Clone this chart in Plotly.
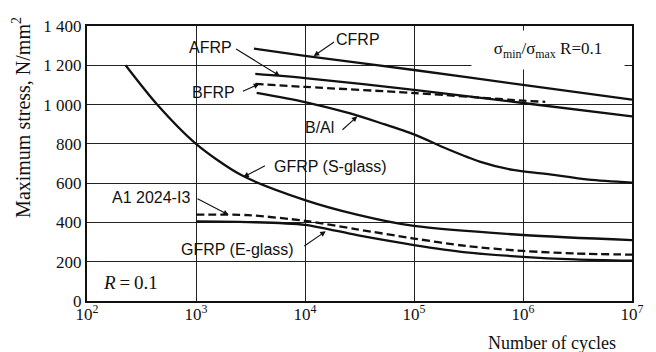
import plotly.graph_objects as go

# S-N curves: number of cycles vs maximum stress (N/mm^2), R = 0.1
cfrp_n = [3.4e3, 1e4, 1e5, 1e6, 1e7]
cfrp_s = [1285, 1248, 1176, 1100, 1025]

afrp_n = [3.5e3, 1e4, 1e5, 1e6, 1e7]
afrp_s = [1156, 1135, 1075, 1008, 940]

bfrp_n = [3.5e3, 1e4, 1e5, 1e6, 1.6e6]
bfrp_s = [1105, 1090, 1059, 1020, 1014]

bal_n = [3.6e3, 1e4, 2.6e4, 5e4, 1e5, 2e5, 4e5, 8.1e5, 1.62e6, 4e6, 1e7]
bal_s = [1060, 1013, 955, 905, 848, 775, 710, 667, 647, 618, 603]

sglass_n = [2.26e2, 4.4e2, 1e3, 2.6e3, 1e4, 3e4, 1e5, 1e6, 1e7]
sglass_s = [1200, 1000, 800, 641, 514, 440, 382, 336, 310]

al2024_n = [1e3, 3e3, 1e4, 3e4, 1e5, 3e5, 1e6, 3e6, 1e7]
al2024_s = [440, 437, 408, 365, 318, 280, 255, 242, 236]

eglass_n = [1e3, 3e3, 1e4, 3e4, 1e5, 3e5, 1e6, 3e6, 1e7]
eglass_s = [405, 402, 388, 335, 285, 248, 225, 212, 205]

x_tickvals = [1e2, 1e3, 1e4, 1e5, 1e6, 1e7]
x_ticktext = ["10<sup>2</sup>", "10<sup>3</sup>", "10<sup>4</sup>",
              "10<sup>5</sup>", "10<sup>6</sup>", "10<sup>7</sup>"]
y_tickvals = [0, 200, 400, 600, 800, 1000, 1200, 1400]
y_ticktext = ["0", "200", "400", "600", "800", "1 000", "1 200", "1 400"]

INK = "#111111"
SERIF = "Liberation Serif, Times New Roman, serif"
SANS = "Liberation Sans, Arial, sans-serif"

series = [
    (cfrp_n, cfrp_s, "solid"),
    (afrp_n, afrp_s, "solid"),
    (bfrp_n, bfrp_s, "8px,4px"),
    (bal_n, bal_s, "solid"),
    (sglass_n, sglass_s, "solid"),
    (al2024_n, al2024_s, "8px,4px"),
    (eglass_n, eglass_s, "solid"),
]

fig = go.Figure()
for xs, ys, dash in series:
    fig.add_trace(go.Scatter(
        x=xs, y=ys, mode="lines",
        line=dict(color=INK, width=2.3, dash=dash, shape="spline", smoothing=0.8),
        showlegend=False, hoverinfo="skip",
    ))

# curve labels: (text, label log10 N, label stress, arrow tail, arrow tip)
labels = [
    ("AFRP", 3.13, 1293, (3.354, 1288), (3.77, 1145)),
    ("CFRP", 4.49, 1329, (4.28, 1324), (4.08, 1247)),
    ("BFRP", 3.16, 1059, (3.416, 1064), (3.58, 1105)),
    ("B/Al", 4.13, 881, (4.33, 865), (4.48, 940)),
    ("GFRP (S-glass)", 4.237, 687, (3.646, 692), (3.434, 631)),
    ("A1 2024-I3", 2.584, 529, (3.0, 524), (3.3, 438)),
    ("GFRP (E-glass)", 3.381, 260, (3.98, 275), (4.19, 355)),
]

annotations = []
for text, lx, ly, tail, tip in labels:
    annotations.append(dict(
        x=lx, y=ly, xref="x", yref="y", text=text, showarrow=False,
        xanchor="center", yanchor="middle",
        font=dict(family=SANS, size=16, color=INK),
    ))
    annotations.append(dict(
        x=tip[0], y=tip[1], ax=tail[0], ay=tail[1],
        xref="x", yref="y", axref="x", ayref="y", text="",
        showarrow=True, arrowhead=2, arrowsize=1.0, arrowwidth=1.1,
        arrowcolor=INK, standoff=0, startstandoff=0,
    ))

annotations += [
    dict(x=2.40, y=92, xref="x", yref="y", showarrow=False,
         xanchor="center", yanchor="middle",
         text="<i>R</i>\u2009=\u20090.1",
         font=dict(family=SERIF, size=19, color=INK)),
    dict(x=6.23, y=1278, xref="x", yref="y", showarrow=False,
         xanchor="center", yanchor="middle",
         text="\u03c3<sub>min</sub>/\u03c3<sub>max</sub> R=0.1",
         font=dict(family=SERIF, size=17, color=INK),
         bgcolor="white", width=150, height=36),
    dict(x=-0.12, y=0.668, xref="paper", yref="paper", showarrow=False,
         xanchor="center", yanchor="middle",
         text="Maximum stress, N/mm<sup>2</sup>", textangle=-90,
         font=dict(family=SERIF, size=20, color=INK)),
    dict(x=0.8525, y=-0.152, xref="paper", yref="paper", showarrow=False,
         xanchor="center", yanchor="middle",
         text="Number of cycles",
         font=dict(family=SERIF, size=18, color=INK)),
]

fig.update_layout(
    width=656, height=352,
    margin=dict(l=87, r=13, t=26, b=51),
    paper_bgcolor="white", plot_bgcolor="white",
    annotations=annotations,
    showlegend=False,
)
fig.update_xaxes(
    type="log", range=[2, 7],
    tickvals=x_tickvals, ticktext=x_ticktext,
    showgrid=True, gridcolor="#222222", gridwidth=1.3,
    showline=True, linecolor=INK, linewidth=2, mirror=True,
    ticks="", zeroline=False, ticklabelstandoff=-3,
    tickfont=dict(family=SERIF, size=17, color=INK),
)
fig.update_yaxes(
    range=[0, 1400],
    tickvals=y_tickvals, ticktext=y_ticktext,
    showgrid=True, gridcolor="#222222", gridwidth=1.3,
    showline=True, linecolor=INK, linewidth=2, mirror=True,
    ticks="", zeroline=False,
    tickfont=dict(family=SERIF, size=17, color=INK),
)

fig.write_html("out.html")
